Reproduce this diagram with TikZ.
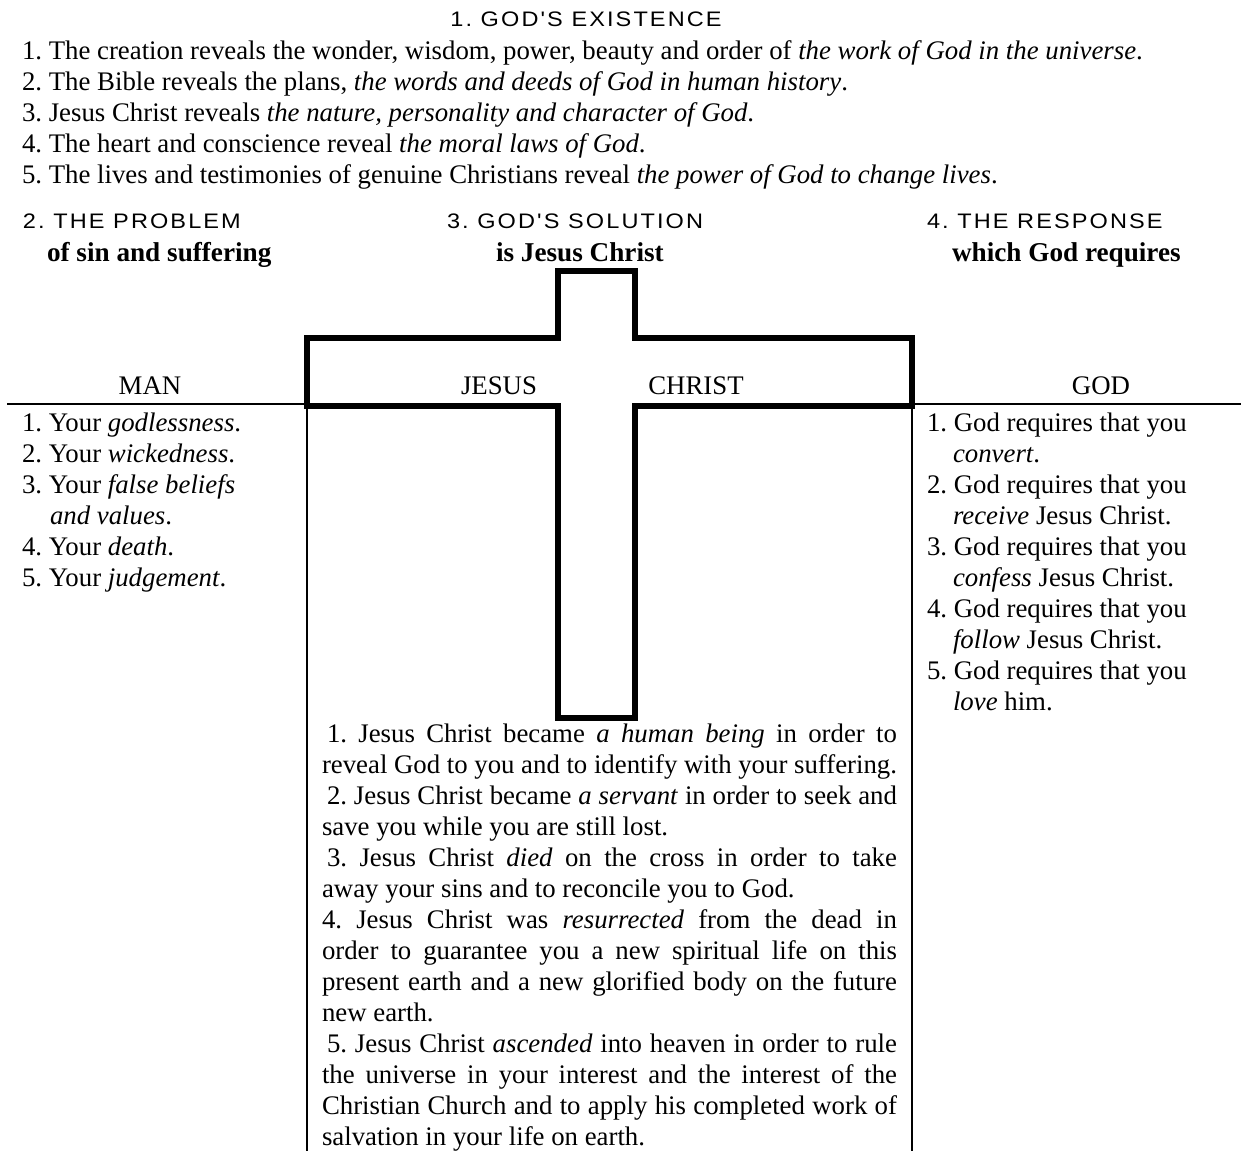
\documentclass[tikz,border=0pt]{standalone}
\usepackage{fontspec}
\setmainfont{Liberation Serif}
\newfontfamily\hsans[FakeStretch=1.12,LetterSpace=10]{Liberation Sans}
\newcommand{\jl}[1]{\hbox to 575pt{#1}}
\newcommand{\ind}{\hspace*{5pt}}
\frenchspacing
\begin{document}
\frenchspacing
\begin{tikzpicture}[x=1pt,y=-1pt,
  every node/.style={inner sep=0pt, outer sep=0pt},
  txt/.style={anchor=base west, font=\fontsize{26.8}{31}\selectfont\frenchspacing},
  hd/.style={anchor=base west, font=\hsans\fontsize{21}{24}\selectfont},
  bhd/.style={anchor=base west, font=\fontsize{27.2}{31}\selectfont\bfseries},
  lbl/.style={anchor=base, font=\fontsize{26.8}{31}\selectfont},
  crossline/.style={line width=6pt, line join=miter},
  rule/.style={line width=1.7pt}]
\useasboundingbox (0,0) rectangle (1241,1151);

% title and top list
\node[hd, anchor=base] (title) at (586,27) {1. GOD'S EXISTENCE};
\node[txt] (e1) at (22,59) {1. The creation reveals the wonder, wisdom, power, beauty and order of \textit{the work of God in the universe}.};
\node[txt] (e2) at (22,90) {2. The Bible reveals the plans, \textit{the words and deeds of God in human history}.};
\node[txt] (e3) at (22,121) {3. Jesus Christ reveals \textit{the nature, personality and character of God}.};
\node[txt] (e4) at (22,152) {4. The heart and conscience reveal \textit{the moral laws of God}.};
\node[txt] (e5) at (22,183) {5. The lives and testimonies of genuine Christians reveal \textit{the power of God to change lives}.};

% section headings
\node[hd] (h2) at (23,228) {2. THE PROBLEM};
\node[hd] (h3) at (447,228) {3. GOD'S SOLUTION};
\node[hd] (h4) at (927,228) {4. THE RESPONSE};
\node[bhd] (b2) at (47,261) {of sin and suffering};
\node[bhd] (b3) at (496,261) {is Jesus Christ};
\node[bhd] (b4) at (952,261) {which God requires};

% cross
\coordinate (ct1) at (558,271);
\coordinate (ct2) at (635,271);
\draw[crossline] (ct1) -- (ct2) -- (635,338) -- (911.5,338) -- (911.5,406) -- (635,406)
  -- (635,718) -- (558,718) -- (558,406) -- (307,406) -- (307,338) -- (558,338) -- cycle;

% rules
\coordinate (lA) at (7,404);
\coordinate (lB) at (307,404);
\coordinate (rA) at (911.5,404);
\coordinate (rB) at (1241,404);
\coordinate (vL1) at (307,406);
\coordinate (vL2) at (307,1151);
\coordinate (vR1) at (912,406);
\coordinate (vR2) at (912,1151);
\draw[rule] (lA) -- (lB);
\draw[rule] (rA) -- (rB);
\draw[rule] (vL1) -- (vL2);
\draw[rule] (vR1) -- (vR2);

% column labels
\node[lbl] (man) at (150,394) {MAN};
\node[lbl] (jesus) at (499,394) {JESUS};
\node[lbl] (christ) at (696,394) {CHRIST};
\node[lbl] (god) at (1101,394) {GOD};

% left list
\node[txt] (m1) at (22,431) {1. Your \textit{godlessness}.};
\node[txt] (m2) at (22,462) {2. Your \textit{wickedness}.};
\node[txt] (m3) at (22,493) {3. Your \textit{false beliefs}};
\node[txt] (m3b) at (50,524) {\textit{and values}.};
\node[txt] (m4) at (22,555) {4. Your \textit{death}.};
\node[txt] (m5) at (22,586) {5. Your \textit{judgement}.};

% right list
\node[txt] (g1) at (927,431) {1. God requires that you};
\node[txt] (g1b) at (953,462) {\textit{convert}.};
\node[txt] (g2) at (927,493) {2. God requires that you};
\node[txt] (g2b) at (953,524) {\textit{receive} Jesus Christ.};
\node[txt] (g3) at (927,555) {3. God requires that you};
\node[txt] (g3b) at (953,586) {\textit{confess} Jesus Christ.};
\node[txt] (g4) at (927,617) {4. God requires that you};
\node[txt] (g4b) at (953,648) {\textit{follow} Jesus Christ.};
\node[txt] (g5) at (927,679) {5. God requires that you};
\node[txt] (g5b) at (953,710) {\textit{love} him.};

% centre text
\node[txt] (c1) at (322,742) {\jl{\ind 1. Jesus Christ became \textit{a human being} in order to}};
\node[txt] (c2) at (322,773) {\jl{reveal God to you and to identify with your suffering.}};
\node[txt] (c3) at (322,804) {\jl{\ind 2. Jesus Christ became \textit{a servant} in order to seek and}};
\node[txt] (c4) at (322,835) {save you while you are still lost.};
\node[txt] (c5) at (322,866) {\jl{\ind 3. Jesus Christ \textit{died} on the cross in order to take}};
\node[txt] (c6) at (322,897) {away your sins and to reconcile you to God.};
\node[txt] (c7) at (322,928) {\jl{4. Jesus Christ was \textit{resurrected} from the dead in}};
\node[txt] (c8) at (322,959) {\jl{order to guarantee you a new spiritual life on this}};
\node[txt] (c9) at (322,990) {\jl{present earth and a new glorified body on the future}};
\node[txt] (c10) at (322,1021) {new earth.};
\node[txt] (c11) at (322,1052) {\jl{\ind 5. Jesus Christ \textit{ascended} into heaven in order to rule}};
\node[txt] (c12) at (322,1083) {\jl{the universe in your interest and the interest of the}};
\node[txt] (c13) at (322,1114) {\jl{Christian Church and to apply his completed work of}};
\node[txt] (c14) at (322,1145) {salvation in your life on earth.};
\end{tikzpicture}
\end{document}
